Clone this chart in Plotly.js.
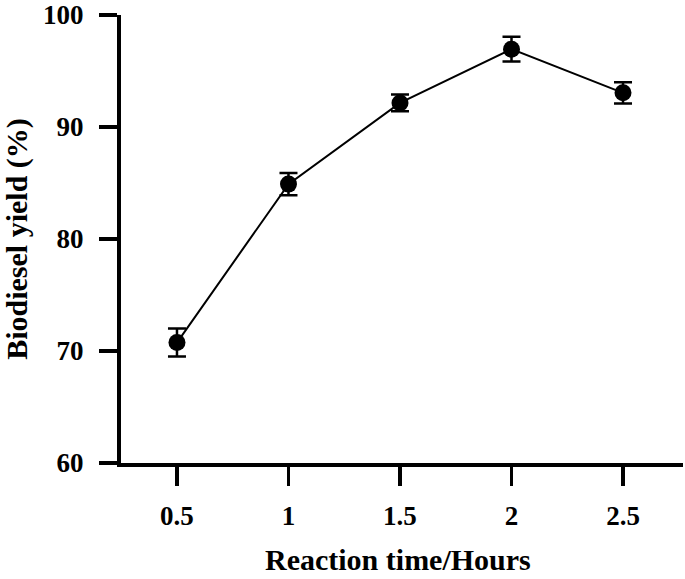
<!DOCTYPE html>
<html>
<head>
<meta charset="utf-8">
<script src="https://cdn.plot.ly/plotly-3.0.1.min.js"></script>
<style>html,body{margin:0;padding:0;background:#fff;}#chart{width:685px;height:579px;}</style>
</head>
<body>
<div id="chart"></div>
<script>
var hours = [0.5, 1, 1.5, 2, 2.5];
var hourLabels = ["0.5", "1", "1.5", "2", "2.5"];
var yieldPct = [70.75, 84.9, 92.15, 96.95, 93.05];
var yieldErr = [1.25, 1.0, 0.75, 1.1, 0.95];
var yTicks = [60, 70, 80, 90, 100];
var xTitle = "Reaction time/Hours";
var yTitle = "Biodiesel yield (%)";

var font = "'Liberation Serif', 'Times New Roman', serif";

var trace = {
  x: hours,
  y: yieldPct,
  type: "scatter",
  mode: "lines+markers",
  line: {color: "#000", width: 2},
  marker: {color: "#000", size: 17},
  error_y: {type: "data", array: yieldErr, visible: true, color: "#000", thickness: 2.5, width: 9}
};

var layout = {
  width: 685, height: 579,
  margin: {l: 121, r: 2, t: 15, b: 116},
  paper_bgcolor: "#fff", plot_bgcolor: "#fff",
  showlegend: false,
  font: {family: font, color: "#000"},
  xaxis: {
    range: [0.249, 2.769],
    tickvals: hours, ticktext: hourLabels,
    ticks: "outside", ticklen: 19, tickwidth: 3.5, tickcolor: "#000",
    showline: true, linewidth: 4, linecolor: "#000",
    showgrid: false, zeroline: false,
    tickfont: {family: font, size: 27, weight: "bold", color: "#000"},
    ticklabelstandoff: 7
  },
  yaxis: {
    range: [60, 100],
    tickvals: yTicks,
    ticks: "outside", ticklen: 18, tickwidth: 3.5, tickcolor: "#000",
    showline: true, linewidth: 4, linecolor: "#000",
    showgrid: false, zeroline: false,
    tickfont: {family: font, size: 27, weight: "bold", color: "#000"},
    ticklabelstandoff: 10,
    title: {text: "<b>" + yTitle + "</b>", font: {family: font, size: 30, color: "#000"}, standoff: 19}
  },
  annotations: [{
    text: "<b>" + xTitle + "</b>",
    xref: "paper", yref: "paper", x: 0.492, y: 0,
    xanchor: "center", yanchor: "bottom", yshift: -115,
    showarrow: false,
    font: {family: font, size: 30, color: "#000"}
  }]
};

Plotly.newPlot("chart", [trace], layout, {displayModeBar: false, staticPlot: true});
</script>
</body>
</html>
